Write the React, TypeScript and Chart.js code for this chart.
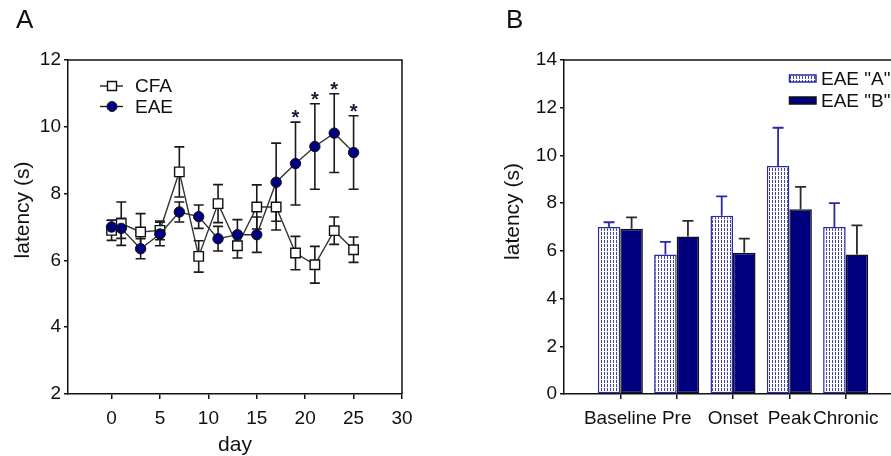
import React, { useEffect, useRef } from 'react';
import { Chart, registerables } from 'chart.js';

Chart.register(...registerables);

// ---------- Panel A data ----------
const days = [0, 1, 3, 5, 7, 9, 11, 13, 15, 17, 19, 21, 23, 25];
const cfaMean = [6.9, 7.1, 6.85, 6.9, 8.65, 6.12, 7.7, 6.44, 7.6, 7.6, 6.22, 5.87, 6.89, 6.32];
const cfaErr = [0.3, 0.65, 0.55, 0.28, 0.75, 0.47, 0.57, 0.37, 0.66, 0.69, 0.5, 0.55, 0.41, 0.38];
const eaeMean = [7.0, 6.96, 6.35, 6.79, 7.45, 7.31, 6.65, 6.77, 6.77, 8.34, 8.9, 9.41, 9.81, 9.23];
const eaeErr = [0.2, 0.3, 0.3, 0.35, 0.3, 0.35, 0.37, 0.45, 0.53, 1.17, 1.24, 1.28, 1.18, 1.1];
const eaeStar = [false, false, false, false, false, false, false, false, false, false, true, true, true, true];
const xTicksA = [0, 5, 10, 15, 20, 25, 30];

// ---------- Panel B data ----------
const phases = ['Baseline', 'Pre', 'Onset', 'Peak', 'Chronic'];
const eaeAMean = [7.0, 5.85, 7.47, 9.56, 7.0];
const eaeAErr = [0.2, 0.53, 0.81, 1.6, 1.0];
const eaeBMean = [6.93, 6.6, 5.92, 7.74, 5.85];
const eaeBErr = [0.47, 0.66, 0.59, 0.94, 1.22];

const FONT = "'Liberation Sans', Arial, Helvetica, sans-serif";
const TXT = '#111111';
const NAVY = '#00007e';
const BLUE_EDGE = '#2a2aa6';

function drawErr(
  ctx: CanvasRenderingContext2D,
  x: number,
  yTop: number,
  yBot: number,
  half: number,
  color: string,
  lw: number,
  bottomCap: boolean
) {
  ctx.save();
  ctx.strokeStyle = color;
  ctx.lineWidth = lw;
  ctx.beginPath();
  ctx.moveTo(x, yTop);
  ctx.lineTo(x, yBot);
  ctx.moveTo(x - half, yTop);
  ctx.lineTo(x + half, yTop);
  if (bottomCap) {
    ctx.moveTo(x - half, yBot);
    ctx.lineTo(x + half, yBot);
  }
  ctx.stroke();
  ctx.restore();
}

function drawYTitle(ctx: CanvasRenderingContext2D, text: string, cx: number, cy: number) {
  ctx.save();
  ctx.translate(cx, cy);
  ctx.rotate(-Math.PI / 2);
  ctx.font = `21px ${FONT}`;
  ctx.fillStyle = TXT;
  ctx.textAlign = 'center';
  ctx.textBaseline = 'middle';
  ctx.fillText(text, 0, 0);
  ctx.restore();
}

function drawLetter(ctx: CanvasRenderingContext2D, text: string, x: number, baseline: number) {
  ctx.save();
  ctx.font = `26px ${FONT}`;
  ctx.fillStyle = TXT;
  ctx.textAlign = 'left';
  ctx.textBaseline = 'alphabetic';
  ctx.fillText(text, x, baseline);
  ctx.restore();
}

function drawFrameTopRight(chart: any) {
  const { ctx, chartArea } = chart;
  ctx.save();
  ctx.strokeStyle = TXT;
  ctx.lineWidth = 1.5;
  ctx.beginPath();
  ctx.moveTo(chartArea.left, chartArea.top);
  ctx.lineTo(chartArea.right, chartArea.top);
  ctx.lineTo(chartArea.right, chartArea.bottom);
  ctx.stroke();
  ctx.restore();
}

const plugA = {
  id: 'panelA',
  beforeDatasetsDraw(chart: any) {
    const ctx = chart.ctx as CanvasRenderingContext2D;
    const ys = chart.scales.y;
    const sets: [number, number[], number[]][] = [[0, cfaMean, cfaErr], [1, eaeMean, eaeErr]];
    sets.forEach(([di, m, e]) => {
      const meta = chart.getDatasetMeta(di);
      meta.data.forEach((pt: any, j: number) => {
        drawErr(ctx, pt.x, ys.getPixelForValue(m[j] + e[j]), ys.getPixelForValue(m[j] - e[j]), 5, '#1a1a1a', 1.6, true);
      });
    });
  },
  afterDatasetsDraw(chart: any) {
    const ctx = chart.ctx as CanvasRenderingContext2D;
    const ys = chart.scales.y;
    const meta = chart.getDatasetMeta(1);
    ctx.save();
    ctx.font = `bold 20px ${FONT}`;
    ctx.fillStyle = '#1a1a3a';
    ctx.textAlign = 'center';
    ctx.textBaseline = 'alphabetic';
    meta.data.forEach((pt: any, j: number) => {
      if (!eaeStar[j]) return;
      const yTop = ys.getPixelForValue(eaeMean[j] + eaeErr[j]);
      ctx.fillText('*', pt.x, yTop + 2);
    });
    ctx.restore();
  },
  afterDraw(chart: any) {
    const ctx = chart.ctx as CanvasRenderingContext2D;
    drawFrameTopRight(chart);
    const rows = [
      { y: 86, label: 'CFA', ds: chart.data.datasets[0] },
      { y: 106.5, label: 'EAE', ds: chart.data.datasets[1] },
    ];
    rows.forEach((r) => {
      ctx.save();
      ctx.strokeStyle = '#222';
      ctx.lineWidth = 1.4;
      ctx.beginPath();
      ctx.moveTo(100, r.y);
      ctx.lineTo(123, r.y);
      ctx.stroke();
      ctx.fillStyle = r.ds.pointBackgroundColor;
      ctx.strokeStyle = r.ds.pointBorderColor;
      ctx.lineWidth = r.ds.pointBorderWidth;
      ctx.beginPath();
      if (r.ds.pointStyle === 'rect') {
        ctx.rect(112 - 4.5, r.y - 4.5, 9, 9);
      } else {
        ctx.arc(112, r.y, 5, 0, Math.PI * 2);
      }
      ctx.fill();
      ctx.stroke();
      ctx.font = `19px ${FONT}`;
      ctx.fillStyle = TXT;
      ctx.textAlign = 'left';
      ctx.textBaseline = 'middle';
      ctx.fillText(r.label, 135, r.y + 1);
      ctx.restore();
    });
    drawYTitle(ctx, 'latency (s)', 23, 210);
    drawLetter(ctx, 'A', 16, 28);
  },
};

const plugB = {
  id: 'panelB',
  afterDatasetsDraw(chart: any) {
    const ctx = chart.ctx as CanvasRenderingContext2D;
    const ys = chart.scales.y;
    const sets: [number, number[], number[], string][] = [
      [0, eaeAMean, eaeAErr, BLUE_EDGE],
      [1, eaeBMean, eaeBErr, '#2a2a2a'],
    ];
    sets.forEach(([di, m, e, col]) => {
      const meta = chart.getDatasetMeta(di);
      m.forEach((v, j) => {
        const bar = meta.data[j + 1];
        if (!bar) return;
        drawErr(ctx, bar.x, ys.getPixelForValue(v + e[j]), ys.getPixelForValue(v), 5.5, col, 1.8, false);
      });
    });
  },
  afterDraw(chart: any) {
    const ctx = chart.ctx as CanvasRenderingContext2D;
    drawFrameTopRight(chart);
    const ds = chart.data.datasets;
    const rows = [
      { y: 78.5, ds: ds[0] },
      { y: 100.5, ds: ds[1] },
    ];
    rows.forEach((r) => {
      ctx.save();
      ctx.fillStyle = r.ds.backgroundColor;
      ctx.fillRect(339.5, r.y - 3.5, 26.5, 7);
      ctx.strokeStyle = r.ds.borderColor;
      ctx.lineWidth = 1.5;
      ctx.strokeRect(339.5, r.y - 3.5, 26.5, 7);
      ctx.font = `19px ${FONT}`;
      ctx.fillStyle = TXT;
      ctx.textAlign = 'left';
      ctx.textBaseline = 'middle';
      ctx.fillText(r.ds.label, 371, r.y + 1);
      ctx.restore();
    });
    drawYTitle(ctx, 'latency (s)', 63.5, 211.5);
    drawLetter(ctx, 'B', 56, 28);
  },
};

const axisLine = { display: true, color: TXT, width: 1.5 };

export default function App() {
  const refA = useRef<HTMLCanvasElement>(null);
  const refB = useRef<HTMLCanvasElement>(null);

  useEffect(() => {
    const cA = refA.current!;
    const cB = refB.current!;

    const chartA = new Chart(cA, {
      type: 'line',
      data: {
        datasets: [
          {
            label: 'CFA',
            data: days.map((d, i) => ({ x: d, y: cfaMean[i] })),
            borderColor: '#333333',
            borderWidth: 1.4,
            pointStyle: 'rect',
            pointRadius: 6.7,
            pointBackgroundColor: '#ffffff',
            pointBorderColor: '#111111',
            pointBorderWidth: 1.4,
            tension: 0,
            order: 1,
          } as any,
          {
            label: 'EAE',
            data: days.map((d, i) => ({ x: d, y: eaeMean[i] })),
            borderColor: '#333333',
            borderWidth: 1.4,
            pointStyle: 'circle',
            pointRadius: 5.2,
            pointBackgroundColor: NAVY,
            pointBorderColor: '#111111',
            pointBorderWidth: 1,
            tension: 0,
            order: 0,
          } as any,
        ],
      },
      options: {
        responsive: false,
        animation: false,
        devicePixelRatio: 1,
        layout: { padding: { top: 60, right: 48, left: 0, bottom: 0 } },
        plugins: { legend: { display: false }, tooltip: { enabled: false } },
        scales: {
          x: {
            type: 'linear',
            min: -4.5,
            max: 30,
            afterBuildTicks: (s: any) => {
              s.ticks = xTicksA.map((v) => ({ value: v }));
            },
            afterFit: (s: any) => {
              s.height = 62;
            },
            grid: { display: true, drawOnChartArea: false, drawTicks: true, tickLength: 5, color: TXT, lineWidth: 1.5 },
            border: axisLine,
            ticks: { font: { family: FONT, size: 19 }, color: TXT, padding: 8, maxRotation: 0 },
            title: { display: true, text: 'day', font: { family: FONT, size: 21 }, color: TXT, padding: { top: 0, bottom: -2 } },
          },
          y: {
            type: 'linear',
            min: 2,
            max: 12,
            afterFit: (s: any) => {
              s.width = 68;
            },
            grid: { display: true, drawOnChartArea: false, drawTicks: true, tickLength: 4, color: TXT, lineWidth: 1.5 },
            border: axisLine,
            ticks: { stepSize: 2, font: { family: FONT, size: 19 }, color: TXT, padding: 3 },
          },
        },
      } as any,
      plugins: [plugA],
    });

    // dotted pattern for EAE "A"
    const tile = document.createElement('canvas');
    tile.width = 3;
    tile.height = 4;
    const tg = tile.getContext('2d')!;
    tg.fillStyle = '#ffffff';
    tg.fillRect(0, 0, 3, 4);
    tg.fillStyle = 'rgba(45,45,175,0.9)';
    tg.fillRect(1, 0, 1, 3);
    const pat = cB.getContext('2d')!.createPattern(tile, 'repeat') || '#c8c8ea';

    const labelsB = ['', ...phases, ''];
    const chartB = new Chart(cB, {
      type: 'bar',
      data: {
        labels: labelsB,
        datasets: [
          {
            label: 'EAE "A"',
            data: [null, ...eaeAMean, null],
            backgroundColor: pat as any,
            borderColor: BLUE_EDGE,
            borderWidth: 1.5,
            borderSkipped: false,
            categoryPercentage: 0.8,
            barPercentage: 1,
          } as any,
          {
            label: 'EAE "B"',
            data: [null, ...eaeBMean, null],
            backgroundColor: NAVY,
            borderColor: '#111111',
            borderWidth: 1.5,
            borderSkipped: false,
            categoryPercentage: 0.8,
            barPercentage: 1,
          } as any,
        ],
      },
      options: {
        responsive: false,
        animation: false,
        devicePixelRatio: 1,
        layout: { padding: { top: 60, right: 8, left: 0, bottom: 0 } },
        plugins: { legend: { display: false }, tooltip: { enabled: false } },
        scales: {
          x: {
            type: 'category',
            offset: false,
            afterFit: (s: any) => {
              s.height = 62;
            },
            grid: {
              display: true,
              offset: false,
              drawOnChartArea: false,
              drawTicks: true,
              tickLength: 5,
              lineWidth: 1.5,
              color: (c: any) => (c.index === 0 || c.index === labelsB.length - 1 ? 'rgba(0,0,0,0)' : TXT),
            },
            border: axisLine,
            ticks: { font: { family: FONT, size: 19 }, color: TXT, padding: 8, maxRotation: 0, autoSkip: false },
          },
          y: {
            type: 'linear',
            min: 0,
            max: 14,
            afterFit: (s: any) => {
              s.width = 114;
            },
            grid: { display: true, drawOnChartArea: false, drawTicks: true, tickLength: 4, color: TXT, lineWidth: 1.5 },
            border: axisLine,
            ticks: { stepSize: 2, font: { family: FONT, size: 19 }, color: TXT, padding: 3 },
          },
        },
      } as any,
      plugins: [plugB],
    });

    return () => {
      chartA.destroy();
      chartB.destroy();
    };
  }, []);

  return (
    <div style={{ position: 'fixed', left: 0, top: 0, width: 891, height: 456, overflow: 'hidden', background: '#ffffff' }}>
      <canvas ref={refA} width={450} height={456} style={{ position: 'absolute', left: 0, top: 0, width: 450, height: 456 }} />
      <canvas ref={refB} width={460} height={456} style={{ position: 'absolute', left: 450, top: 0, width: 460, height: 456 }} />
    </div>
  );
}
